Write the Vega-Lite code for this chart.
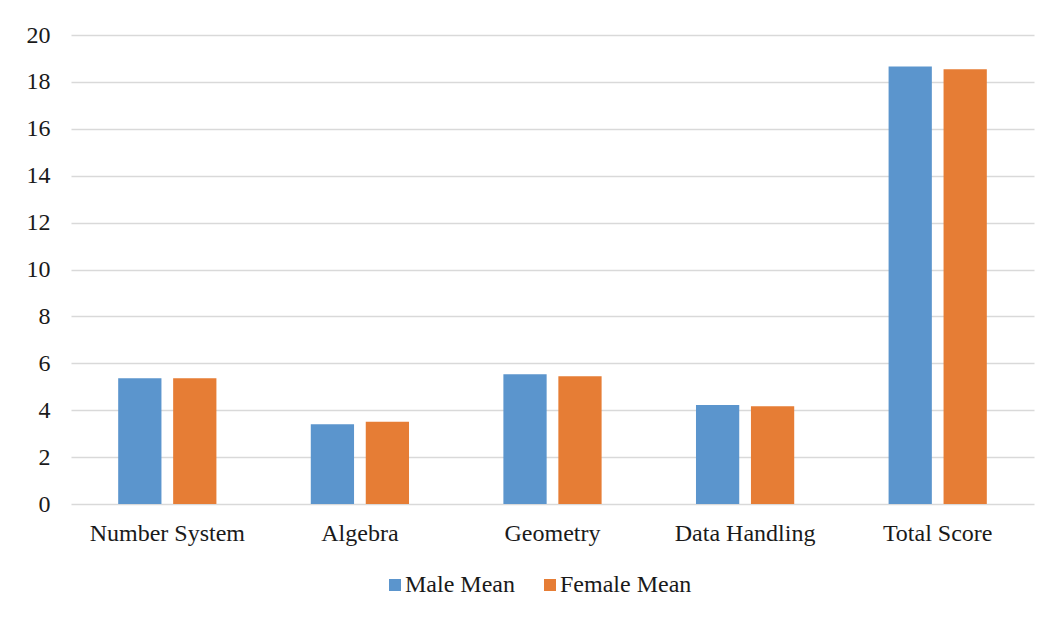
{
  "$schema": "https://vega.github.io/schema/vega-lite/v6.json",
  "width": 963,
  "height": 469,
  "autosize": {"type": "none"},
  "padding": {"left": 71, "top": 35, "right": 21, "bottom": 114},
  "background": "white",
  "data": {
    "values": [
      {"area": "Number System", "group": "Male Mean", "score": 5.36},
      {"area": "Number System", "group": "Female Mean", "score": 5.36},
      {"area": "Algebra", "group": "Male Mean", "score": 3.40},
      {"area": "Algebra", "group": "Female Mean", "score": 3.51},
      {"area": "Geometry", "group": "Male Mean", "score": 5.53},
      {"area": "Geometry", "group": "Female Mean", "score": 5.45},
      {"area": "Data Handling", "group": "Male Mean", "score": 4.22},
      {"area": "Data Handling", "group": "Female Mean", "score": 4.17},
      {"area": "Total Score", "group": "Male Mean", "score": 18.66},
      {"area": "Total Score", "group": "Female Mean", "score": 18.54}
    ]
  },
  "mark": {"type": "bar"},
  "encoding": {
    "x": {
      "field": "area",
      "type": "nominal",
      "sort": ["Number System", "Algebra", "Geometry", "Data Handling", "Total Score"],
      "scale": {"paddingInner": 0.49, "paddingOuter": 0.245},
      "axis": {
        "title": null,
        "labelAngle": 0,
        "ticks": false,
        "domain": false,
        "labelPadding": 17,
        "labelFont": "Liberation Serif",
        "labelFontSize": 24,
        "labelColor": "#1a1a1a"
      }
    },
    "xOffset": {
      "field": "group",
      "type": "nominal",
      "sort": ["Male Mean", "Female Mean"],
      "scale": {"paddingInner": 0.213, "paddingOuter": 0}
    },
    "y": {
      "field": "score",
      "type": "quantitative",
      "scale": {"domain": [0, 20], "nice": false},
      "axis": {
        "title": null,
        "values": [0, 2, 4, 6, 8, 10, 12, 14, 16, 18, 20],
        "ticks": false,
        "domain": false,
        "grid": true,
        "gridColor": "#d9d9d9",
        "gridWidth": 1.3,
        "labelPadding": 21,
        "labelFont": "Liberation Serif",
        "labelFontSize": 24,
        "labelColor": "#1a1a1a"
      }
    },
    "color": {
      "field": "group",
      "type": "nominal",
      "sort": ["Male Mean", "Female Mean"],
      "scale": {"domain": ["Male Mean", "Female Mean"], "range": ["#5b95cd", "#e67d35"]},
      "legend": {
        "title": null,
        "orient": "none",
        "direction": "horizontal",
        "legendX": 312,
        "legendY": 538,
        "symbolType": "square",
        "symbolSize": 144,
        "symbolStrokeWidth": 0,
        "symbolOpacity": 1,
        "labelFont": "Liberation Serif",
        "labelFontSize": 24,
        "labelColor": "#1a1a1a",
        "labelOffset": -2,
        "columnPadding": 23
      }
    }
  },
  "config": {
    "view": {"stroke": null}
  }
}
